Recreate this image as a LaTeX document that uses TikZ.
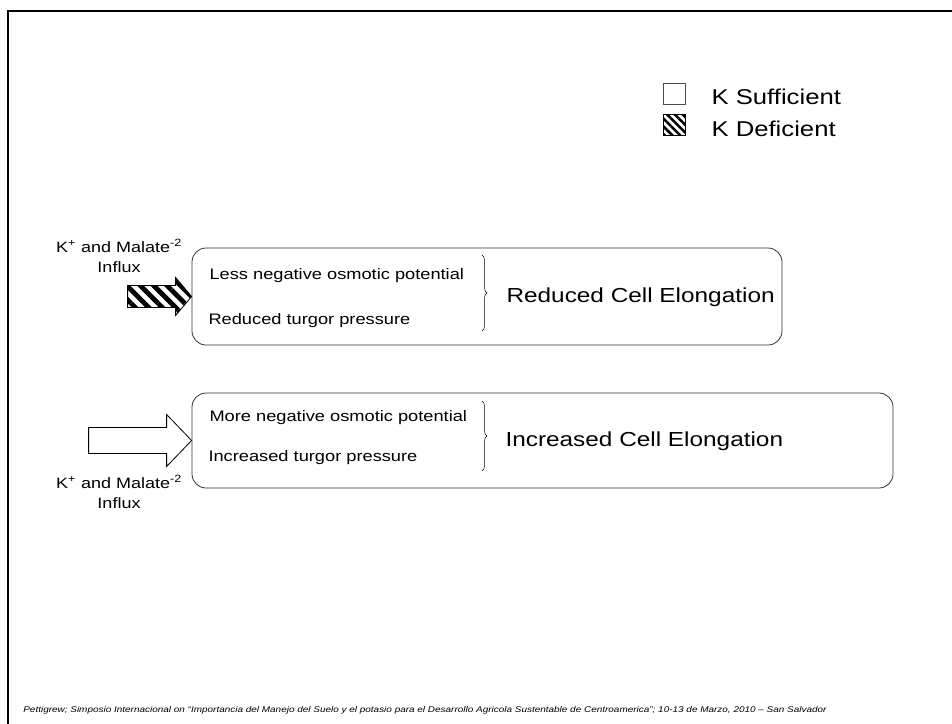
\documentclass[tikz,border=0pt]{standalone}
\usepackage{fontspec}
\setmainfont[FakeStretch=1.2]{Liberation Sans}
\usetikzlibrary{arrows.meta,calc,positioning,patterns.meta,decorations.pathreplacing}
\tikzset{
  cellbox/.style={draw=black!80,rounded corners=14pt,line width=0.8pt},
  hatch/.style={pattern={Lines[angle=-45,distance=9.5pt,line width=4.8pt]}},
  brc/.style={decorate,decoration={brace,amplitude=5pt},line width=0.5pt},
  small/.style={font=\fontsize{15.2}{18}\selectfont},
  big/.style={font=\fontsize{20.3}{24}\selectfont},
  lbl/.style={font=\fontsize{15}{20}\selectfont,align=center},
}
\begin{document}
\begin{tikzpicture}[x=1pt,y=-1pt]
  \useasboundingbox (0,0) rectangle (952,723);
  \draw[line width=2.4pt] (8,724) |- (953,11);
  % legend
  \node[draw=black!70,line width=0.8pt,minimum width=22pt,minimum height=21pt,inner sep=0pt] (LS) at (674,94) {};
  \node[draw,line width=0.8pt,pattern={Lines[angle=-45,distance=5.5pt,line width=2.6pt]},
    minimum width=22pt,minimum height=21pt,inner sep=0pt] (LD) at (674,125) {};
  \node[anchor=west,font=\fontsize{21.4}{24}\selectfont] (LST) at (708,97) {K Sufficient};
  \node[anchor=west,font=\fontsize{21.4}{24}\selectfont] (LDT) at (708,129) {K Deficient};
  % K deficient
  \node[cellbox,minimum width=590pt,minimum height=97pt] (D) at (487,296.5) {};
  \node[small,anchor=west] (D1) at (206,276) {Less negative osmotic potential};
  \node[small,anchor=west] (D2) at (205,321) {Reduced turgor pressure};
  \draw[brc] (482,255) -- (482,331);
  \node[big,anchor=west] (DE) at (503,297) {Reduced Cell Elongation};
  \draw[hatch,line width=0.8pt] (D.west) -- ++(-16,-19) -- ++(0,8) -- ++(-48,0)
    -- ++(0,22) -- ++(48,0) -- ++(0,8) -- cycle;
  \node[lbl] (DL) at (119,256) {K\textsuperscript{+} and Malate\textsuperscript{-2}\\Influx};
  % K sufficient
  \node[cellbox,minimum width=701pt,minimum height=95pt] (S) at (542.5,440.5) {};
  \node[small,anchor=west] (S1) at (206,418) {More negative osmotic potential};
  \node[small,anchor=west] (S2) at (205,458) {Increased turgor pressure};
  \draw[brc] (482,401) -- (482,471);
  \node[big,anchor=west] (SE) at (502,441) {Increased Cell Elongation};
  \draw[line width=0.8pt,fill=white] (S.west) -- ++(-25,-26) -- ++(0,13) -- ++(-78,0)
    -- ++(0,26) -- ++(78,0) -- ++(0,13) -- cycle;
  \node[lbl] (SL) at (119,492) {K\textsuperscript{+} and Malate\textsuperscript{-2}\\Influx};
  % source
  \node[font=\fontsize{8.3}{10}\selectfont\itshape] (src) at (425,710)
    {Pettigrew; Simposio Internacional on “Importancia del Manejo del Suelo y el potasio para el Desarrollo Agricola Sustentable de Centroamerica”; 10-13 de Marzo, 2010 – San Salvador};
\end{tikzpicture}
\end{document}
